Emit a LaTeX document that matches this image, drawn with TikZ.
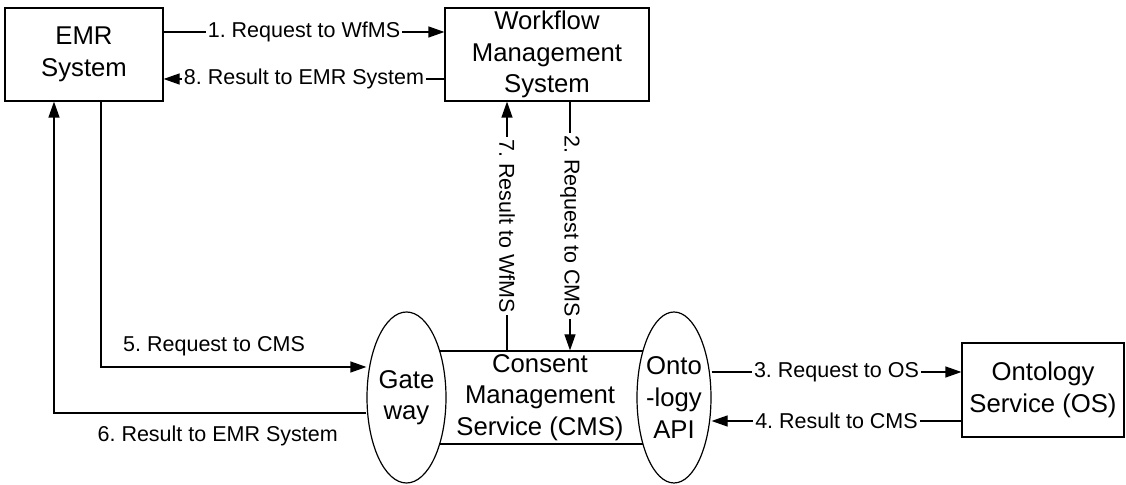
\documentclass[tikz,border=0pt]{standalone}
\usepackage{fontspec}
\setmainfont{Liberation Sans}
\frenchspacing
\usetikzlibrary{arrows.meta,shapes.geometric}

\begin{document}
\begin{tikzpicture}[x=0.5pt, y=-0.5pt, line width=0.6pt,
			>={Triangle[length=8pt,width=5.5pt]},
			main node/.style={rectangle,draw,fill=white,align=center,inner sep=0pt,font=\fontsize{12.85}{15.8}\selectfont},
			api node/.style={ellipse,draw,fill=white,align=center,inner sep=0pt,inner xsep=-3pt,minimum height=85.5pt,font=\fontsize{12.85}{15.8}\selectfont},
			msg/.style={fill=white,inner sep=1pt,font=\fontsize{10.75}{13}\selectfont}]
			
			\useasboundingbox (0,0) rectangle (1126,485);
			
			\node[main node,minimum width=79pt,minimum height=46.5pt] (emr) at (84,54.5) {EMR\\System};
			\node[main node,minimum width=102pt,minimum height=46.5pt] (wfms) at (547,54.5) {Workflow\\Management\\System};
			\node[main node,minimum width=134pt,minimum height=46.5pt] (cms) at (540,397.5) {Consent\\Management\\Service (CMS)};
			\node[api node,minimum width=39.5pt] (gate) at (406.5,397.5) {Gate\\way};
			\node[api node,minimum width=37pt] (onto) at (674,397.5) {Onto\\-logy\\API};
			\node[main node,minimum width=81pt,minimum height=47pt] (os) at (1043,390) {Ontology\\Service (OS)};
			
			\path[->]
			(emr.east |- 0,32)
			edge node[msg] {1. Request to WfMS} (wfms.west |- 0,32)
			(wfms.west |- 0,79)
			edge node[msg] {8. Result to EMR System} (emr.east |- 0,79)
			
			(wfms.south -| 570,0)
			edge node[msg,rotate=-90] {2. Request to CMS} (cms.north -| 570,0)
			(cms.north -| 507,0)
			edge node[msg,rotate=-90] {7. Result to WfMS} (wfms.south -| 507,0)
			
			(onto.east |- 0,372)
			edge node[msg] {3. Request to OS} (os.west |- 0,372)
			(os.west |- 0,421)
			edge node[msg] {4. Result to CMS} (onto.east |- 0,421)
			;
			
			\draw[->] (emr.south -| 101,0) |- node[msg,pos=0.713,above=4pt] {5. Request to CMS} (gate.west |- 0,367);
			\draw[->] (gate.west |- 0,413) -| node[msg,pos=0.238,below=5pt] {6. Result to EMR System} (emr.south -| 54,0);
			\end{tikzpicture}
\end{document}
